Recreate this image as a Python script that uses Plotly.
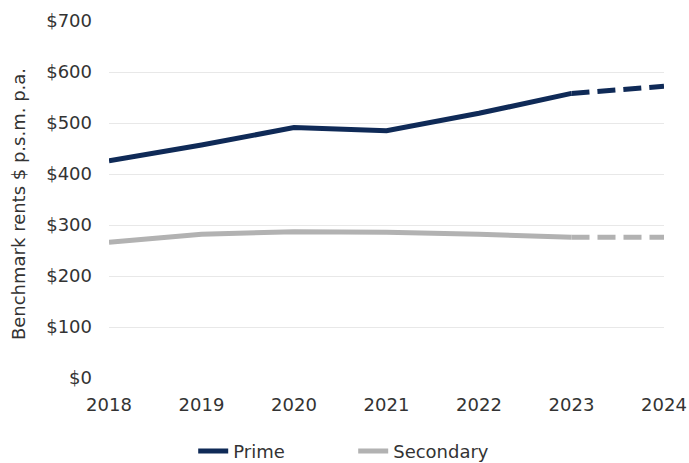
import plotly.graph_objects as go

years = [2018, 2019, 2020, 2021, 2022, 2023, 2024]
prime = [426, 457, 491, 485, 519, 558, 572]
secondary = [266, 282, 287, 286, 282, 276, 276]
actual_end = 5  # index of last actual year (2023)
y_ticks = [0, 100, 200, 300, 400, 500, 600, 700]
y_labels = ["$" + str(v) for v in y_ticks]
y_title = "Benchmark rents $ p.s.m. p.a."

navy = "#0f2a57"
grey = "#b2b2b2"
font = "DejaVu Sans"
txt = "#333333"

fig = go.Figure()
fig.add_trace(go.Scatter(x=years[:actual_end + 1], y=prime[:actual_end + 1], mode="lines",
                         name="Prime", line=dict(color=navy, width=5)))
fig.add_trace(go.Scatter(x=years[:actual_end + 1], y=secondary[:actual_end + 1], mode="lines",
                         name="Secondary", line=dict(color=grey, width=5)))
fig.add_trace(go.Scatter(x=years[actual_end:], y=prime[actual_end:], mode="lines",
                         showlegend=False, line=dict(color=navy, width=5, dash="18px,8px")))
fig.add_trace(go.Scatter(x=years[actual_end:], y=secondary[actual_end:], mode="lines",
                         showlegend=False, line=dict(color=grey, width=5, dash="18px,8px")))

fig.add_annotation(text=y_title, xref="paper", yref="paper", x=-0.164, y=0.487,
                   xanchor="center", yanchor="middle", textangle=-90, showarrow=False,
                   font=dict(size=18, color=txt))

fig.update_layout(
    width=689, height=463,
    margin=dict(l=109, r=25, t=21, b=85, autoexpand=False),
    paper_bgcolor="white", plot_bgcolor="white",
    font=dict(family=font, size=18, color=txt),
    showlegend=True,
    legend=dict(orientation="h", x=0.44, xanchor="center", y=-0.205, yanchor="middle",
                entrywidth=115, entrywidthmode="pixels",
                font=dict(size=18, color=txt)),
    xaxis=dict(range=[2018, 2024], tickvals=years, ticktext=[str(y) for y in years],
               showgrid=False, zeroline=False, showline=False, ticks="", automargin=False,
               ticklabelstandoff=14, tickfont=dict(size=18, color=txt)),
    yaxis=dict(range=[0, 700], tickvals=y_ticks, ticktext=y_labels,
               showgrid=True, gridcolor="#e8e8e8", gridwidth=1, zeroline=False,
               showline=False, ticks="", ticklabelstandoff=16, automargin=False,
               tickfont=dict(size=18, color=txt)),
)

fig.write_html("out.html", config={"displayModeBar": False},
               post_script="document.body.style.margin='0';document.body.style.overflow='hidden';")
